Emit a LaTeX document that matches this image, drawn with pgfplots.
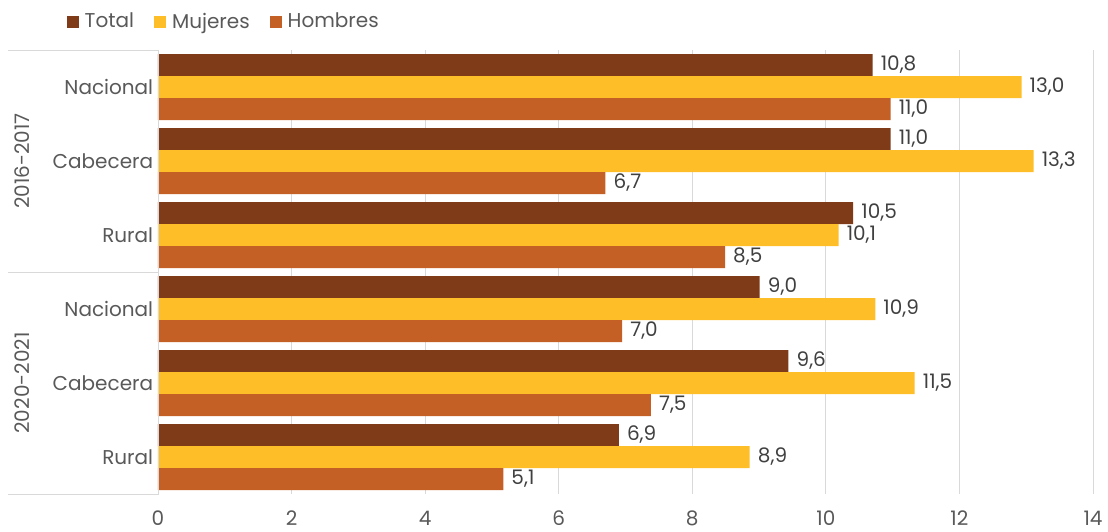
\documentclass[border=0pt]{standalone}
\usepackage{pgfplots}
\pgfplotsset{compat=1.18}
\usepackage{fontspec}
\setmainfont{Poppins}
\definecolor{cTotal}{HTML}{7F3A17}
\definecolor{cMuj}{HTML}{FDBE27}
\definecolor{cHom}{HTML}{C46025}
\definecolor{txt}{HTML}{595959}
\definecolor{vtxt}{HTML}{404040}
\definecolor{gridc}{HTML}{D9D9D9}
\begin{document}
\fontsize{20bp}{24bp}\selectfont
\begin{tikzpicture}
\path[use as bounding box] (-158bp,-38bp) rectangle (950bp,494bp);
\begin{axis}[
  at={(0,0)}, anchor=south west,
  scale only axis, width=935bp, height=444bp,
  xmin=0, xmax=14, ymin=-0.5, ymax=5.5,
  y dir=reverse,
  xbar, bar width=22bp,
  xtick={0,2,...,14},
  ytick={0,1,2,3,4,5},
  yticklabels={Nacional,Cabecera,Rural,Nacional,Cabecera,Rural},
  major tick length=0pt,
  xmajorgrids, major grid style={draw=gridc, line width=0.8pt},
  axis line style={draw=none},
  clip=false,
  tick label style={text=txt, font=\fontsize{20bp}{24bp}\selectfont},
  /pgf/number format/assume math mode=true,
  xticklabel style={yshift=-10bp},
  yticklabel style={xshift=2bp},
  point meta=explicit,
  nodes near coords,
  nodes near coords style={anchor=west, inner sep=0pt, xshift=8bp, text=vtxt, font=\fontsize{20bp}{24bp}\selectfont, /pgf/number format/.cd, fixed, fixed zerofill, precision=1, use comma, assume math mode=true},
  legend style={draw=none, fill=none, at={(rel axis cs:-0.101,1.063)}, anchor=west, legend columns=3, font=\fontsize{20bp}{24bp}\selectfont, text=txt, /tikz/every even column/.append style={column sep=18bp}, /tikz/every odd column/.append style={column sep=4bp}},
  legend image code/.code={\fill[#1] (0bp,-6bp) rectangle (12bp,6bp);},
]
\addplot[fill=cTotal, draw=none, bar shift=22bp] coordinates {(10.70,0) [10.8] (10.97,1) [11.0] (10.41,2) [10.5] (9.01,3) [9.0] (9.44,4) [9.6] (6.90,5) [6.9]};
\addplot[fill=cMuj, draw=none, bar shift=0bp] coordinates {(12.93,0) [13.0] (13.11,1) [13.3] (10.19,2) [10.1] (10.74,3) [10.9] (11.33,4) [11.5] (8.86,5) [8.9]};
\addplot[fill=cHom, draw=none, bar shift=-22bp] coordinates {(10.97,0) [11.0] (6.70,1) [6.7] (8.49,2) [8.5] (6.95,3) [7.0] (7.38,4) [7.5] (5.17,5) [5.1]};
\legend{Total, Mujeres, Hombres}
\draw[gridc, line width=0.8pt] (axis cs:-2.246,-0.5) -- (axis cs:0,-0.5) -- (axis cs:0,5.5) -- (axis cs:-2.246,5.5);
\draw[gridc, line width=0.8pt] (axis cs:-2.246,2.5) -- (axis cs:0,2.5);
\node[rotate=90, text=txt, anchor=center] at (axis cs:-2.03,1) {2016-2017};
\node[rotate=90, text=txt, anchor=center] at (axis cs:-2.03,4) {2020-2021};
\end{axis}
\end{tikzpicture}
\end{document}
